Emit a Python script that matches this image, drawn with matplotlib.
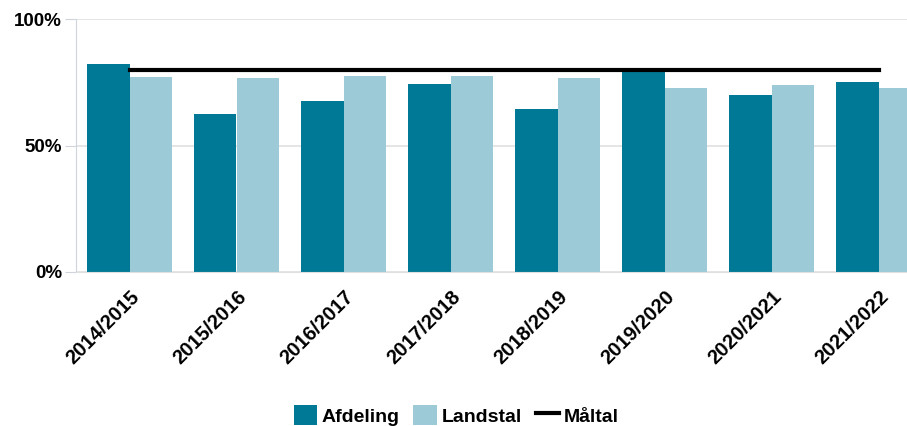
import numpy as np
import matplotlib
matplotlib.use("Agg")
import matplotlib.pyplot as plt

plt.rcParams['font.family'] = ['Liberation Sans', 'DejaVu Sans']

seasons = ["2014/2015", "2015/2016", "2016/2017", "2017/2018",
           "2018/2019", "2019/2020", "2020/2021", "2021/2022"]
afdeling = [82.2, 62.5, 67.6, 74.3, 64.4, 79.0, 70.0, 75.0]
landstal = [77.0, 76.7, 77.5, 77.5, 76.7, 72.7, 73.9, 72.6]
maaltal = [80, 80, 80, 80, 80, 80, 80, 80]

dark = "#007996"
light = "#9ccad6"

fig = plt.figure(figsize=(9.07, 4.26), dpi=100)
# plot area runs past the right edge of the picture, as in the original
ax = fig.add_axes([76 / 907, 1 - 272 / 426, 856 / 907, 253 / 426])

x = np.arange(len(seasons))
w = 0.4
b1 = ax.bar(x - w / 2, afdeling, width=w, color=dark, label="Afdeling", zorder=2)
b2 = ax.bar(x + w / 2, landstal, width=w, color=light, label="Landstal", zorder=2)
l1, = ax.plot(x, maaltal, color="black", lw=3, label="Måltal", zorder=3)

ax.set_xlim(-0.5, len(seasons) - 0.5)
ax.set_ylim(0, 100)
ax.set_yticks([0, 50, 100])
ax.set_yticklabels(["0%", "50%", "100%"], fontsize=13.5, fontweight="bold")
ax.yaxis.grid(True, color="#e0e0e0", lw=1.2, zorder=0)
ax.tick_params(axis="y", length=8, color="#d0d4dc", pad=2)
ax.tick_params(axis="x", length=0, pad=11)

ax.set_xticks(x)
ax.set_xticklabels(seasons, rotation=45, ha="right", va="top",
                   rotation_mode="anchor", fontsize=14.5, fontweight="bold")

for side in ["top", "right"]:
    ax.spines[side].set_visible(False)
ax.spines["left"].set_color("#d0d4dc")
ax.spines["bottom"].set_color("#e0e0e0")

fig.legend([b1, b2, l1], ["Afdeling", "Landstal", "Måltal"],
           loc="lower center", bbox_to_anchor=(0.503, -0.04), ncol=3,
           frameon=False, prop={"weight": "bold", "size": 14},
           handlelength=1.2, handleheight=1.2, handletextpad=0.25,
           columnspacing=0.7)

fig.savefig("out.png", dpi=100)
